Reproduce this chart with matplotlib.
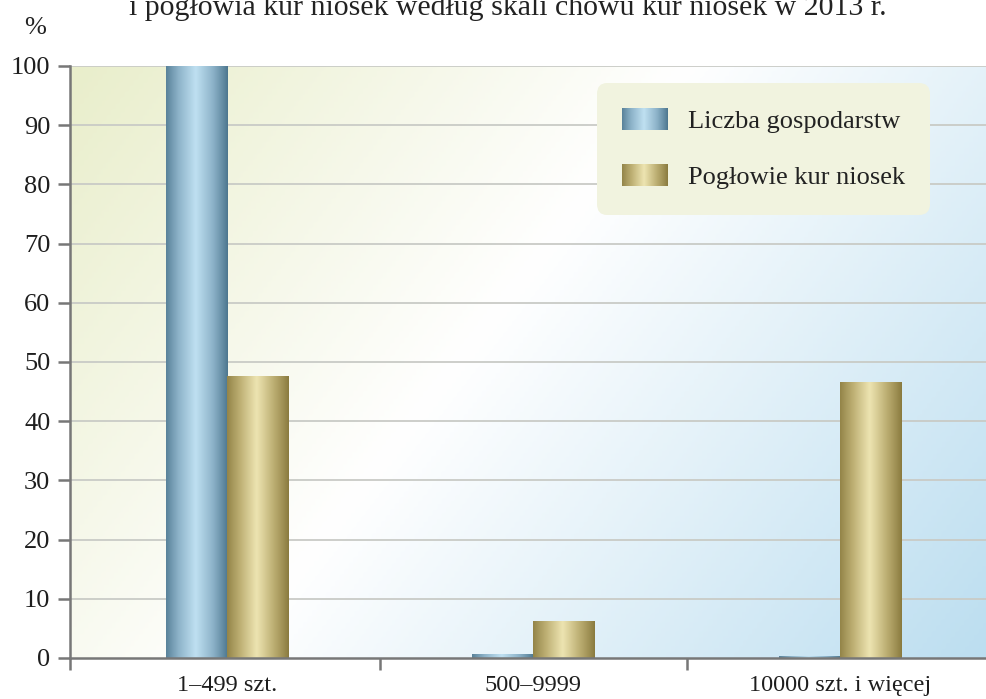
import numpy as np
import matplotlib as mpl
import matplotlib.pyplot as plt
from matplotlib.colors import LinearSegmentedColormap
from matplotlib.legend_handler import HandlerBase
from matplotlib.image import BboxImage
from matplotlib.transforms import Bbox, TransformedBbox
from matplotlib.patches import Patch

# dane
categories = ['1–499 szt.', '500–9999', '10000 szt. i więcej']
gospodarstwa = [100.0, 0.6, 0.3]
poglowie = [47.5, 6.2, 46.6]
series_names = ['Liczba gospodarstw', 'Pogłowie kur niosek']
y_ticks = list(range(0, 101, 10))

mpl.rcParams['font.family'] = ['Liberation Serif', 'DejaVu Serif']
mpl.rcParams['font.size'] = 18

# gradienty "walcowe" dla słupków
cmap_blue = LinearSegmentedColormap.from_list('b', ['#4d778f', '#8db3c9', '#bfe0f1'])
cmap_gold = LinearSegmentedColormap.from_list('g', ['#8a7b3f', '#bcae72', '#ede4b1'])
u = np.linspace(0, 1, 64)
profile = np.clip(1 - np.abs(u - 0.48) / 0.52, 0, 1) ** 0.9
bar_grad = profile[np.newaxis, :]

fig = plt.figure(figsize=(9.87, 6.99), dpi=100)
ax = fig.add_axes([0.0709, 0.0587, 0.929, 0.847])

x = np.arange(len(categories))
w = 0.2
xlim = (-0.512, 2.479)

# tło z gradientem
bg_cmap = LinearSegmentedColormap.from_list(
    'bg', [(0, '#e9eecb'), (0.45, '#ffffff'), (1, '#bcdef0')])
gx, gy = np.meshgrid(np.linspace(0, 1, 200), np.linspace(1, 0, 200))
t = (gx + (1 - gy) * 0.5) / 1.5
ax.imshow(t, extent=[xlim[0], xlim[1], 0, 100], cmap=bg_cmap,
          aspect='auto', zorder=0, vmin=0, vmax=1)

for yt in y_ticks[1:]:
    ax.axhline(yt, color='#c9cbc6', lw=1.3, zorder=1)

bars1 = ax.bar(x - w / 2, gospodarstwa, w, color='none', zorder=3)
bars2 = ax.bar(x + w / 2, poglowie, w, color='none', zorder=3)
for bars, cm in ((bars1, cmap_blue), (bars2, cmap_gold)):
    for p in bars:
        ax.imshow(bar_grad, extent=[p.get_x(), p.get_x() + p.get_width(),
                                    0, p.get_height()],
                  cmap=cm, aspect='auto', zorder=3, vmin=0, vmax=1,
                  interpolation='bicubic')

ax.set_xlim(*xlim)
ax.set_ylim(0, 100)

ax.set_yticks(y_ticks)
ax.tick_params(axis='y', length=8.6, width=1.8, color='#777777',
               labelcolor='#1e1e1e', pad=5.5, labelsize=19)
ax.set_xticks([xlim[0], 0.5, 1.5])
ax.set_xticklabels([])
ax.set_xticks(x, minor=True)
ax.set_xticklabels(categories, minor=True)
ax.tick_params(axis='x', which='major', length=8.6, width=1.8, color='#777777')
ax.tick_params(axis='x', which='minor', length=0, pad=12,
               labelcolor='#1e1e1e', labelsize=17.5)

for s in ('top', 'right'):
    ax.spines[s].set_visible(False)
ax.spines['left'].set_color('#777777')
ax.spines['left'].set_linewidth(1.8)
ax.spines['bottom'].set_color('#777777')
ax.spines['bottom'].set_linewidth(1.8)
ax.spines['bottom'].set_zorder(5)


# legenda z gradientowymi znacznikami
class GradHandler(HandlerBase):
    def create_artists(self, legend, orig_handle, xdescent, ydescent,
                       width, height, fontsize, trans):
        bb = Bbox.from_bounds(-xdescent, -ydescent, width, height)
        img = BboxImage(TransformedBbox(bb, trans), cmap=orig_handle.cm,
                        interpolation='bicubic', norm=mpl.colors.Normalize(0, 1))
        img.set_data(bar_grad)
        return [img]


h1 = Patch()
h1.cm = cmap_blue
h2 = Patch()
h2.cm = cmap_gold
leg = ax.legend([h1, h2], series_names, loc='upper right',
                bbox_to_anchor=(0.938, 0.971), borderaxespad=0,
                handler_map={Patch: GradHandler()},
                handlelength=1.74, handleheight=0.87, handletextpad=0.76,
                labelspacing=1.2, borderpad=0.95, fontsize=19,
                frameon=True, fancybox=True, facecolor='#f1f3df',
                edgecolor='none', framealpha=1)
leg.get_frame().set_boxstyle('round', pad=0, rounding_size=0.4)
for txt in leg.get_texts():
    txt.set_color('#222222')
leg.set_zorder(6)

# tytuł ucięty u góry, tak jak w oryginale
fig.text(0.515, 1 - 15 / 699,
         'i pogłowia kur niosek według skali chowu kur niosek w 2013 r.',
         ha='center', va='baseline', fontsize=21.5, color='#222222')
fig.text(35 / 987, 1 - 28 / 699, '%', ha='center', va='center',
         fontsize=19, color='#222222')

fig.savefig('out.png', dpi=100)
